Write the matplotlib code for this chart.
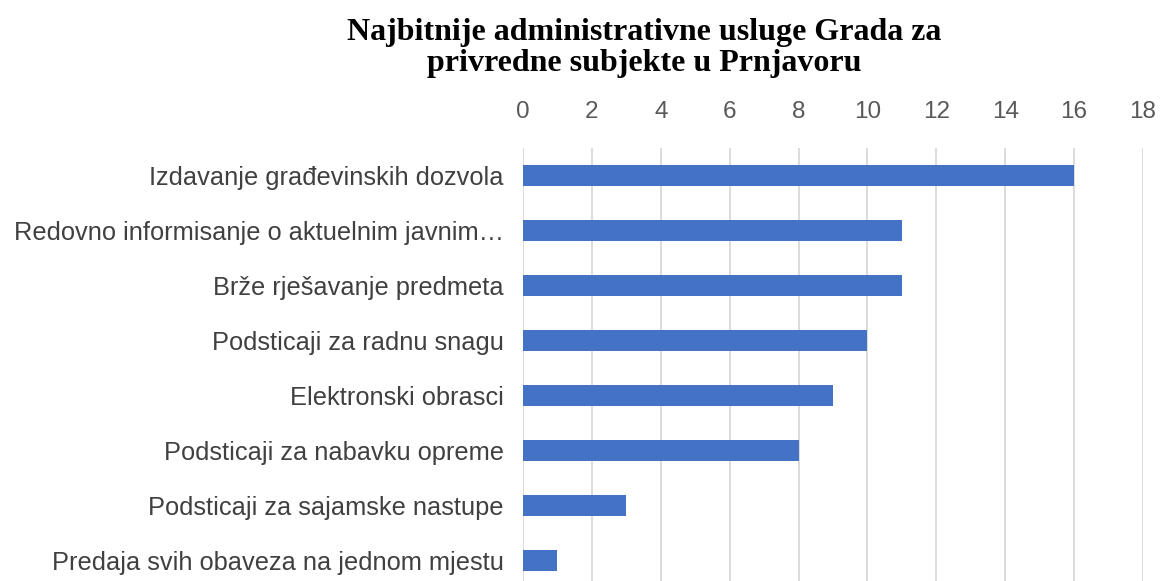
import matplotlib
matplotlib.use("Agg")
import matplotlib.pyplot as plt

categories = [
    "Izdavanje građevinskih dozvola",
    "Redovno informisanje o aktuelnim javnim…",
    "Brže rješavanje predmeta",
    "Podsticaji za radnu snagu",
    "Elektronski obrasci",
    "Podsticaji za nabavku opreme",
    "Podsticaji za sajamske nastupe",
    "Predaja svih obaveza na jednom mjestu",
]
values = [16, 11, 11, 10, 9, 8, 3, 1]
xticks = [0, 2, 4, 6, 8, 10, 12, 14, 16, 18]
title = "Najbitnije administrativne usluge Grada za\nprivredne subjekte u Prnjavoru"

W, H = 1160, 581
fig = plt.figure(figsize=(W / 100, H / 100), dpi=100)
left, right = 523 / W, 1143 / W
top_px, bot_px = 148, 588
ax = fig.add_axes([left, (H - bot_px) / H, right - left, (bot_px - top_px) / H])

ypos = list(range(len(categories)))
ax.barh(ypos, values, height=0.38, color="#4472C4", zorder=3)
ax.set_ylim(len(categories) - 0.5, -0.5)
ax.set_xlim(0, 18)
ax.set_xticks(xticks)
ax.set_yticks(ypos)
ax.set_yticklabels(categories, fontsize=18.3, color="#404040", family="Liberation Sans")
ax.xaxis.tick_top()
ax.tick_params(axis="x", length=0, pad=18, labelsize=17.5, labelcolor="#595959")
ax.tick_params(axis="y", length=0, pad=14)
for lab in ax.get_xticklabels():
    lab.set_family("Liberation Sans")
ax.grid(axis="x", color="#D9D9D9", linewidth=1.3, zorder=0)
for s in ax.spines.values():
    s.set_visible(False)

fig.text(644 / W, 1 - 48 / H, title, ha="center", va="center", fontsize=23,
         fontweight="bold", family="Liberation Serif", color="black", linespacing=1.12)

fig.savefig("out.png", dpi=100)
